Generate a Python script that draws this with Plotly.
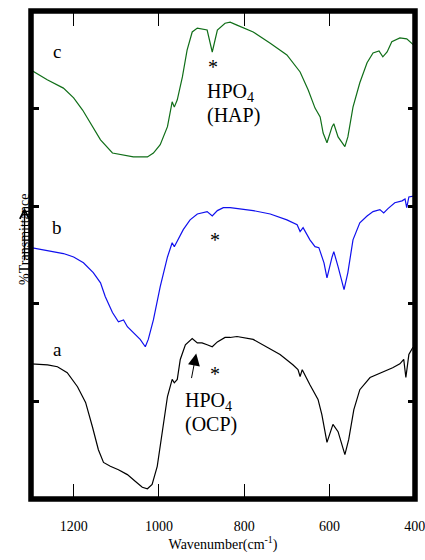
import plotly.graph_objects as go

# ---- data (wavenumber cm-1, %transmittance in arbitrary offset units 0-100) ----
wn_c = [1300, 1262, 1224, 1200, 1179, 1156, 1137, 1109, 1083, 1060, 1027, 1013, 997, 980, 969, 964, 957,
        945, 934, 922, 910, 887, 875, 863, 845, 833, 817, 779, 739, 700, 669, 650, 634, 622, 615, 606,
        594, 590, 580, 564, 557, 545, 529, 512, 498, 484, 475, 465, 454, 435, 419, 407, 400]
t_c = [87.9, 85.9, 84.2, 82.2, 79.7, 76.3, 73.6, 70.9, 70.5, 70.1, 70.1, 70.9, 72.6, 76.3, 81.4, 80.3, 81.8,
       86.5, 92.0, 95.7, 96.5, 96.1, 91.6, 96.1, 97.5, 97.7, 97.1, 95.7, 93.4, 91.0, 87.5, 83.8, 80.1, 78.3, 75.0, 73.0,
       76.3, 76.9, 74.2, 72.2, 74.2, 80.3, 85.3, 89.4, 91.4, 91.8, 90.6, 91.6, 93.7, 94.5, 94.3, 93.4, 92.8]

wn_b = [1300, 1261, 1224, 1200, 1177, 1154, 1137, 1126, 1109, 1095, 1083, 1074, 1060, 1044, 1032, 1025, 1013,
        997, 980, 969, 964, 955, 943, 927, 910, 887, 875, 863, 849, 833, 817, 779, 739, 700, 676, 669, 662,
        646, 634, 625, 613, 606, 594, 590, 580, 566, 557, 545, 529, 512, 498, 482, 473, 463, 447, 430, 423,
        419, 414, 405, 400]
t_b = [51.5, 50.9, 50.3, 49.6, 48.4, 46.4, 44.3, 41.5, 38.2, 36.3, 36.7, 35.3, 34.1, 32.7, 31.2, 32.7, 36.7,
       43.5, 49.6, 52.5, 51.7, 53.1, 55.2, 57.2, 58.4, 58.9, 58.0, 59.1, 59.7, 59.7, 59.5, 59.1, 58.4, 57.2, 56.2, 54.8, 55.6,
       53.1, 51.7, 51.5, 48.4, 45.3, 49.6, 50.7, 47.6, 42.9, 46.4, 53.1, 56.6, 58.0, 58.9, 59.3, 58.6, 59.5, 60.7, 61.1, 61.5,
       59.7, 61.9, 62.1, 62.1]

wn_a = [1300, 1261, 1238, 1215, 1191, 1172, 1156, 1142, 1130, 1114, 1095, 1074, 1055, 1039, 1027, 1016, 1004,
        992, 980, 969, 964, 957, 950, 938, 922, 910, 899, 887, 875, 863, 845, 833, 817, 779, 746, 716, 686,
        674, 669, 664, 646, 627, 618, 606, 592, 580, 564, 555, 543, 529, 505, 477, 452, 435, 426, 421, 414,
        405, 400]
t_a = [27.7, 27.5, 27.1, 25.9, 23.0, 19.8, 14.8, 10.1, 7.5, 6.7, 6.0, 5.0, 3.6, 2.4, 2.1, 3.0, 6.7,
       14.2, 21.0, 24.5, 23.8, 24.5, 28.6, 31.6, 32.9, 32.0, 32.0, 31.6, 31.2, 32.2, 33.1, 33.1, 33.3, 32.7, 31.0, 29.6, 27.5,
       26.5, 25.1, 26.5, 23.4, 20.4, 17.3, 11.6, 15.3, 13.8, 9.1, 12.2, 18.3, 22.4, 24.9, 25.9, 26.9, 27.7, 28.6, 24.9, 29.6,
       31.0, 31.2]

x_ticks = [1200, 1000, 800, 600, 400]
x_tick_labels = ["1200", "1000", "800", "600", "400"]

SERIF = "Liberation Serif, Times New Roman, serif"

fig = go.Figure()
fig.add_trace(go.Scatter(x=wn_a, y=t_a, mode="lines", line=dict(color="#000000", width=1.2), name="a"))
fig.add_trace(go.Scatter(x=wn_b, y=t_b, mode="lines", line=dict(color="#1010ee", width=1.2), name="b"))
fig.add_trace(go.Scatter(x=wn_c, y=t_c, mode="lines", line=dict(color="#106e18", width=1.2), name="c"))

fig.update_layout(
    width=425, height=560,
    margin=dict(l=30.5, r=10, t=11, b=60.5, autoexpand=False),
    paper_bgcolor="white", plot_bgcolor="white",
    showlegend=False,
    font=dict(family=SERIF, color="black", size=14),
    xaxis=dict(range=[1300, 399.6], tickvals=x_ticks, ticktext=x_tick_labels,
               ticks="inside", ticklen=15, tickwidth=1.3, tickcolor="black",
               showline=False, mirror="ticks", showgrid=False, zeroline=False,
               ticklabelstandoff=17, ticklabeloverflow="allow", automargin=False,
               tickfont=dict(family=SERIF, size=14),
               title=dict(text="Wavenumber(cm<sup>-1</sup>)", font=dict(family=SERIF, size=14), standoff=0)),
    yaxis=dict(range=[0, 100], tickvals=[20, 40, 60, 80], showticklabels=False,
               ticks="inside", ticklen=7.5, tickwidth=2.5, tickcolor="black", automargin=False,
               showline=False, mirror="ticks", showgrid=False, zeroline=False),
)

fig.add_shape(type="rect", xref="paper", yref="paper", x0=0, x1=1, y0=0, y1=1,
              line=dict(color="black", width=5.5), layer="above")

def label(text, x, y, size=19, xanchor="center"):
    fig.add_annotation(x=x, y=y, text=text, showarrow=False, xanchor=xanchor, yanchor="middle",
                       font=dict(family=SERIF, size=size, color="black"))

label("c", 1238, 91.6)
label("b", 1238, 55.6)
label("a", 1238, 30.6)
label("*", 873, 88.5, size=20)
label("*", 868, 53.0, size=20)
label("*", 868, 25.7, size=20)
label("HPO<sub>4</sub>", 891, 83.2, size=20, xanchor="left")
label("(HAP)", 891, 78.5, size=20, xanchor="left")
label("HPO<sub>4</sub>", 943, 20.0, size=20, xanchor="left")
label("(OCP)", 943, 15.3, size=20, xanchor="left")

fig.add_annotation(x=912.6, y=29.8, ax=-5, ay=26, text="", showarrow=True,
                   arrowhead=2, arrowsize=2.4, arrowwidth=1, arrowcolor="black")

fig.add_annotation(xref="paper", x=-0.0403, y=53.1, text="%Transmittance", textangle=-90, showarrow=False,
                   font=dict(family=SERIF, size=14, color="black"))
fig.add_annotation(xref="paper", x=-0.0169, y=59.7, ax=0, ay=54, text="", showarrow=True,
                   arrowhead=5, arrowsize=1.3, arrowwidth=1.4, arrowcolor="black")

fig.write_html("out.html")
